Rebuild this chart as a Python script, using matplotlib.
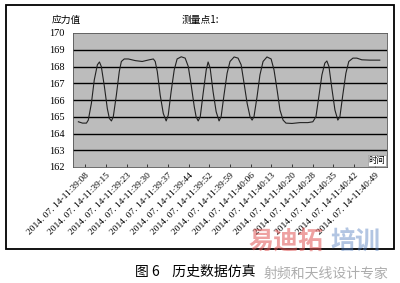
import matplotlib
matplotlib.use("Agg")
import matplotlib.pyplot as plt
from matplotlib.patches import Rectangle

# ---- data ----
tick_labels = ["2014. 07. 14-11:39:08", "2014. 07. 14-11:39:15", "2014. 07. 14-11:39:23",
               "2014. 07. 14-11:39:30", "2014. 07. 14-11:39:37", "2014. 07. 14-11:39:44",
               "2014. 07. 14-11:39:52", "2014. 07. 14-11:39:59", "2014. 07. 14-11:40:06",
               "2014. 07. 14-11:40:13", "2014. 07. 14-11:40:20", "2014. 07. 14-11:40:28",
               "2014. 07. 14-11:40:35", "2014. 07. 14-11:40:42", "2014. 07. 14-11:40:49"]
y_ticks = [162, 163, 164, 165, 166, 167, 168, 169, 170]

t = [-0.34, -0.14, 0.05, 0.14, 0.29, 0.43, 0.58, 0.68, 0.77, 0.92, 1.06, 1.16, 1.26, 1.35,
     1.50, 1.64, 1.74, 1.88, 2.08, 2.42, 2.75, 3.09, 3.29, 3.38, 3.48, 3.62, 3.77, 3.91,
     4.01, 4.15, 4.30, 4.44, 4.64, 4.83, 4.98, 5.12, 5.27, 5.36, 5.46, 5.56, 5.70, 5.85,
     5.94, 6.04, 6.18, 6.33, 6.47, 6.57, 6.71, 6.86, 7.00, 7.20, 7.39, 7.54, 7.68, 7.83,
     7.97, 8.07, 8.16, 8.31, 8.45, 8.60, 8.79, 8.99, 9.13, 9.28, 9.42, 9.57, 9.71, 10.00,
     10.39, 10.77, 11.01, 11.16, 11.30, 11.45, 11.59, 11.69, 11.79, 11.93, 12.08, 12.22,
     12.32, 12.46, 12.61, 12.75, 12.95, 13.14, 13.38, 13.77, 14.25]
stress = [164.70, 164.62, 164.62, 164.8, 165.8, 167.2, 168.1, 168.27, 168.0, 166.8, 165.5,
          164.9, 164.75, 165.0, 166.3, 167.7, 168.3, 168.45, 168.45, 168.35, 168.3, 168.4,
          168.45, 168.3, 167.7, 166.3, 165.2, 164.75, 165.1, 166.5, 167.8, 168.45, 168.58,
          168.5, 168.0, 166.9, 165.6, 165.0, 164.75, 165.0, 166.4, 167.8, 168.27, 167.9,
          166.5, 165.3, 164.75, 165.0, 166.3, 167.6, 168.3, 168.57, 168.5, 168.1, 167.0,
          165.8, 165.0, 164.8, 165.0, 166.2, 167.5, 168.3, 168.57, 168.45, 167.8, 166.6,
          165.4, 164.8, 164.62, 164.6, 164.65, 164.65, 164.7, 165.0, 166.2, 167.5, 168.2,
          168.33, 168.0, 166.7, 165.4, 164.8, 165.0, 166.3, 167.6, 168.3, 168.5, 168.5,
          168.4, 168.38, 168.38]

cjk = ["Noto Sans CJK SC", "DejaVu Sans"]
serif = ["Liberation Serif", "DejaVu Serif"]

fig = plt.figure(figsize=(4.0, 2.83), dpi=100)
fig.patch.set_facecolor("white")

# outer frame
fig.add_artist(Rectangle((6 / 400, 1 - 249 / 283), 388 / 400, 244 / 283,
                         transform=fig.transFigure, fill=False, edgecolor="black", lw=1.3))

ax = fig.add_axes([73 / 400, 1 - 167 / 283, 314 / 400, 134 / 283])
ax.set_facecolor("#bcbcbc")
ax.set_xlim(-0.6, 14.6)
ax.set_ylim(162, 170)
for v in y_ticks[1:-1]:
    ax.axhline(v, color="black", lw=1.0, zorder=1)
ax.plot(t, stress, color="#222222", lw=0.8, zorder=2)

ax.set_yticks(y_ticks)
ax.set_yticklabels([str(v) for v in y_ticks], family=serif, fontsize=7.5)
ax.set_xticks(range(len(tick_labels)))
ax.set_xticklabels(tick_labels, rotation=45, ha="right", va="top",
                   rotation_mode="anchor", family=serif, fontsize=6.8)
ax.tick_params(axis="y", length=0, pad=6)
ax.tick_params(axis="x", length=2, direction="in", pad=3, width=0.5)
for s in ax.spines.values():
    s.set_color("#555555")
    s.set_linewidth(0.6)
    s.set_linestyle((0, (1, 1)))

fig.text(52 / 400, 1 - 20 / 283, "应力值", family=cjk, fontsize=7, va="center", ha="left")
fig.text(182 / 400, 1 - 20 / 283, "测量点1:", family=cjk, fontsize=7, va="center", ha="left")
ax.text(0.995, 0.015, "时间", transform=ax.transAxes, family=cjk, fontsize=6,
        ha="right", va="bottom",
        bbox=dict(facecolor="white", edgecolor="#888888", pad=0.6, lw=0.4))

# caption
fig.text(135 / 400, 1 - 272 / 283, "图 6    历史数据仿真", family=cjk, fontsize=10,
         va="center", ha="left")

# watermark
fig.text(248 / 400, 1 - 242 / 283, "易迪拓", family=cjk, fontsize=18, fontweight="bold",
         color="#e05555", alpha=0.55, ha="left", va="center")
fig.text(330 / 400, 1 - 242 / 283, "培训", family=cjk, fontsize=18, fontweight="bold",
         color="#5580c0", alpha=0.45, ha="left", va="center")
fig.text(264 / 400, 1 - 274 / 283, "射频和天线设计专家", family=cjk, fontsize=10,
         color="#999999", alpha=0.8, ha="left", va="center")

fig.savefig("out.png", dpi=100)
